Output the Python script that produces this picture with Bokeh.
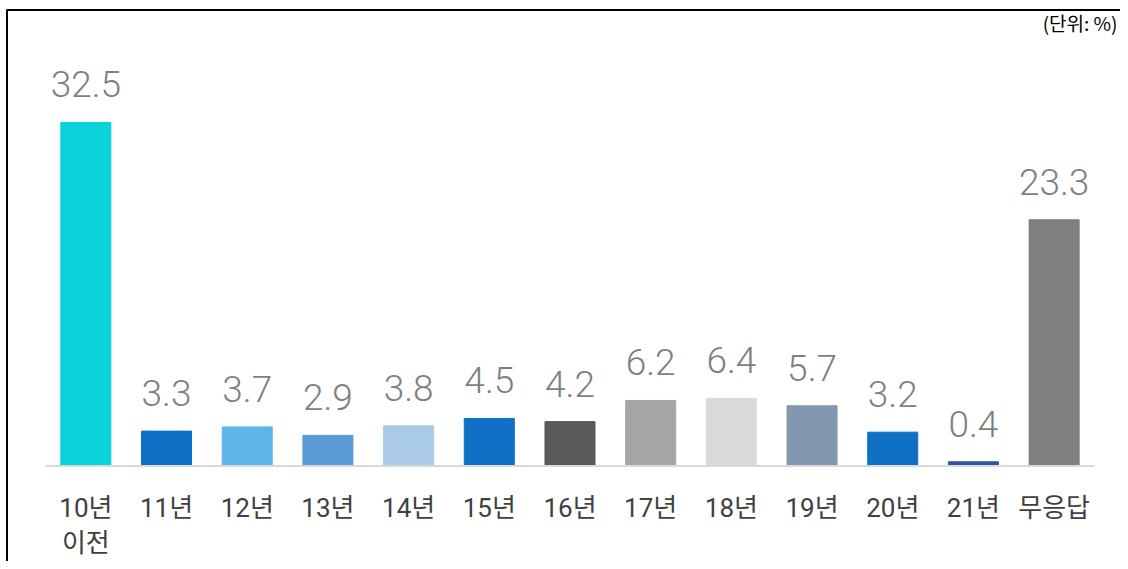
import numpy as np
from bokeh.plotting import figure
from bokeh.models import ColumnDataSource, Range1d
from bokeh.core.properties import value
from bokeh.embed import file_html
from bokeh.resources import INLINE

categories = ["10년\n이전", "11년", "12년", "13년", "14년", "15년", "16년",
              "17년", "18년", "19년", "20년", "21년", "무응답"]
values = [32.5, 3.3, 3.7, 2.9, 3.8, 4.5, 4.2, 6.2, 6.4, 5.7, 3.2, 0.4, 23.3]
colors = ["#0AD1DA", "#0F70C6", "#5FB5EA", "#5B9BD5", "#AACBE8", "#0F70C6",
          "#595959", "#A6A6A6", "#D9D9D9", "#8497B0", "#0F70C6", "#2F55A0",
          "#7F7F7F"]
value_labels = [f"{v:.1f}" for v in values]
unit_label = "(단위: %)"

n = len(categories)
xs = np.arange(n)
src = ColumnDataSource(dict(x=xs, top=values, color=colors, cat=categories,
                            vlab=value_labels))

W, H = 1120, 561
PX_X = 80.69   # px per category
PX_Y = 10.57   # px per percent
BASE_Y = 465.5
LEFT_X = 45.0
x0 = -0.5 - LEFT_X / PX_X
x1 = x0 + W / PX_X
y1 = BASE_Y / PX_Y
y0 = y1 - H / PX_Y

p = figure(width=W, height=H, output_backend="svg", toolbar_location=None,
           x_range=Range1d(x0, x1), y_range=Range1d(y0, y1),
           min_border=0, min_border_left=0, min_border_right=0,
           min_border_top=0, min_border_bottom=0)
p.axis.visible = False
p.grid.visible = False
p.outline_line_color = None
p.background_fill_color = "white"
p.border_fill_color = "white"

p.vbar(x="x", top="top", bottom=0, width=0.62, color="color", source=src)

# baseline
p.line(x=[-0.5, n - 0.5], y=[0, 0], line_color="#D9D9D9", line_width=2)

# value labels
p.text(x="x", y="top", text="vlab", source=src, text_align="center",
       text_baseline="alphabetic", y_offset=-38, text_color="#7F7F7F",
       text_font=value("Roboto Light, Roboto"), text_font_size="37px")

# category labels
p.text(x="x", y=0, text="cat", source=src, text_align="center",
       text_baseline="top", y_offset=27, text_color="#404040",
       text_font=value("Roboto, Noto Sans CJK KR"), text_font_size="26px",
       text_line_height=1.15)

# unit label
p.text(x=[x1], y=[y1], text=[unit_label],
       text_align="right", text_baseline="top", x_offset=-3, y_offset=8,
       text_color="#000000", text_font=value("Noto Sans CJK KR"),
       text_font_size="19px")

# frame border (top and left)
bx = x0 + 6.5 / PX_X
by = y1 - 9.5 / PX_Y
p.line(x=[bx, bx, x1], y=[y0, by, by], line_color="#000000", line_width=2)

open("out.html", "w").write(file_html(p, INLINE))
